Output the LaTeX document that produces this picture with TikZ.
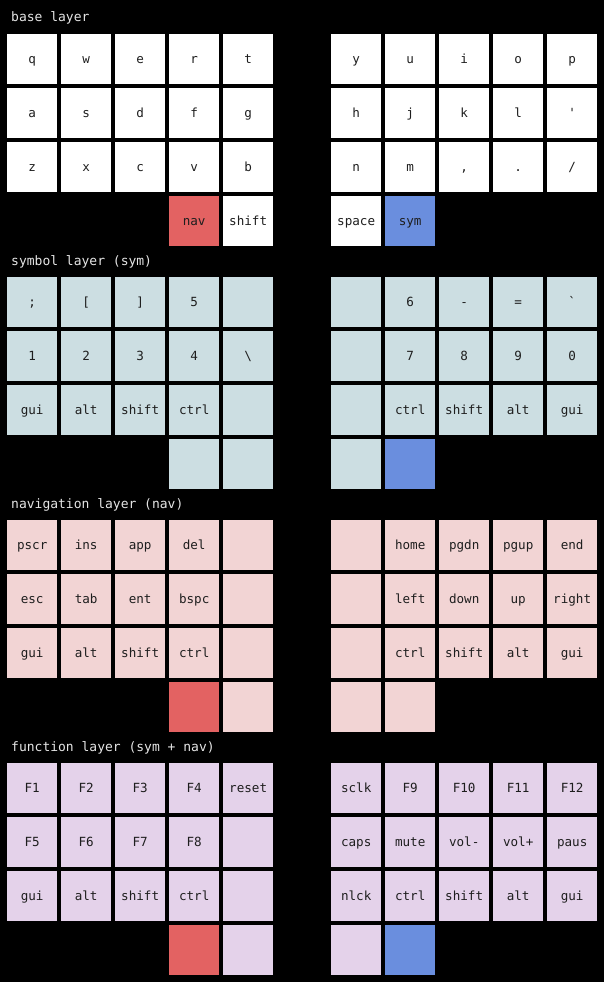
\documentclass[tikz,border=0pt]{standalone}
\usepackage{fontspec}
\setmonofont{DejaVu Sans Mono}
\usepackage{tikz}

\definecolor{navred}{RGB}{227,98,98}
\definecolor{symblue}{RGB}{106,142,222}
\definecolor{symbg}{RGB}{204,222,226}
\definecolor{navbg}{RGB}{242,212,212}
\definecolor{funbg}{RGB}{228,210,234}
\definecolor{keytext}{RGB}{30,30,30}

\tikzset{
  key/.style={minimum size=50, inner sep=0pt, anchor=north west,
    text height=8pt, text depth=0pt,
    font=\ttfamily\fontsize{12.6}{14}\selectfont, text=keytext},
  layertitle/.style={anchor=base west, inner sep=0pt, text=white!90!black,
    font=\ttfamily\fontsize{13}{15}\selectfont}
}

% one row of five keys, pitch 54
\newcommand{\keyrow}[5]{%
  \foreach \lbl [count=\col] in {#5}
    \node[key,#4] (#1\col) at ({#2+54*(\col-1)},#3) {\lbl};%
}

\begin{document}
\begin{tikzpicture}[x=1pt,y=-1pt]
		\fill[black] (0,0) rectangle (604,982);
		\useasboundingbox (0,0) rectangle (604,982);
		%----------------------------------------------------
		% base layer
		%----------------------------------------------------
		\node[layertitle] (base-title) at (11,22) {base layer};
		\keyrow{base-l1-}{7}{34}{fill=white}{q,w,e,r,t}
		\keyrow{base-l2-}{7}{88}{fill=white}{a,s,d,f,g}
		\keyrow{base-l3-}{7}{142}{fill=white}{z,x,c,v,b}
		\keyrow{base-r1-}{331}{34}{fill=white}{y,u,i,o,p}
		\keyrow{base-r2-}{331}{88}{fill=white}{h,j,k,l,'}
		\keyrow{base-r3-}{331}{142}{fill=white}{n,m,{,},.,/}
		\node[key,fill=navred] (base-lt1) at (169,196) {nav};
		\node[key,fill=white] (base-lt2) at (223,196) {shift};
		\node[key,fill=white] (base-rt1) at (331,196) {space};
		\node[key,fill=symblue] (base-rt2) at (385,196) {sym};
		
		%----------------------------------------------------
		% symbol layer
		%----------------------------------------------------
		\node[layertitle] (sym-title) at (11,265) {symbol layer (sym)};
		\keyrow{sym-l1-}{7}{277}{fill=symbg}{;,{[},{]},5,{}}
		\keyrow{sym-l2-}{7}{331}{fill=symbg}{1,2,3,4,\textbackslash}
		\keyrow{sym-l3-}{7}{385}{fill=symbg}{gui,alt,shift,ctrl,{}}
		\keyrow{sym-r1-}{331}{277}{fill=symbg}{{},6,-,{=},`}
		\keyrow{sym-r2-}{331}{331}{fill=symbg}{{},7,8,9,0}
		\keyrow{sym-r3-}{331}{385}{fill=symbg}{{},ctrl,shift,alt,gui}
		\node[key,fill=symbg] (sym-lt1) at (169,439) {};
		\node[key,fill=symbg] (sym-lt2) at (223,439) {};
		\node[key,fill=symbg] (sym-rt1) at (331,439) {};
		\node[key,fill=symblue] (sym-rt2) at (385,439) {};
		
		%----------------------------------------------------
		% navigation layer
		%----------------------------------------------------
		\node[layertitle] (nav-title) at (11,508) {navigation layer (nav)};
		\keyrow{nav-l1-}{7}{520}{fill=navbg}{pscr,ins,app,del,{}}
		\keyrow{nav-l2-}{7}{574}{fill=navbg}{esc,tab,ent,bspc,{}}
		\keyrow{nav-l3-}{7}{628}{fill=navbg}{gui,alt,shift,ctrl,{}}
		\keyrow{nav-r1-}{331}{520}{fill=navbg}{{},home,pgdn,pgup,end}
		\keyrow{nav-r2-}{331}{574}{fill=navbg}{{},left,down,up,right}
		\keyrow{nav-r3-}{331}{628}{fill=navbg}{{},ctrl,shift,alt,gui}
		\node[key,fill=navred] (nav-lt1) at (169,682) {};
		\node[key,fill=navbg] (nav-lt2) at (223,682) {};
		\node[key,fill=navbg] (nav-rt1) at (331,682) {};
		\node[key,fill=navbg] (nav-rt2) at (385,682) {};
		
		%----------------------------------------------------
		% function layer
		%----------------------------------------------------
		\node[layertitle] (fun-title) at (11,751) {function layer (sym + nav)};
		\keyrow{fun-l1-}{7}{763}{fill=funbg}{F1,F2,F3,F4,reset}
		\keyrow{fun-l2-}{7}{817}{fill=funbg}{F5,F6,F7,F8,{}}
		\keyrow{fun-l3-}{7}{871}{fill=funbg}{gui,alt,shift,ctrl,{}}
		\keyrow{fun-r1-}{331}{763}{fill=funbg}{sclk,F9,F10,F11,F12}
		\keyrow{fun-r2-}{331}{817}{fill=funbg}{caps,mute,vol-,vol+,paus}
		\keyrow{fun-r3-}{331}{871}{fill=funbg}{nlck,ctrl,shift,alt,gui}
		\node[key,fill=navred] (fun-lt1) at (169,925) {};
		\node[key,fill=funbg] (fun-lt2) at (223,925) {};
		\node[key,fill=funbg] (fun-rt1) at (331,925) {};
		\node[key,fill=symblue] (fun-rt2) at (385,925) {};
	\end{tikzpicture}
\end{document}
